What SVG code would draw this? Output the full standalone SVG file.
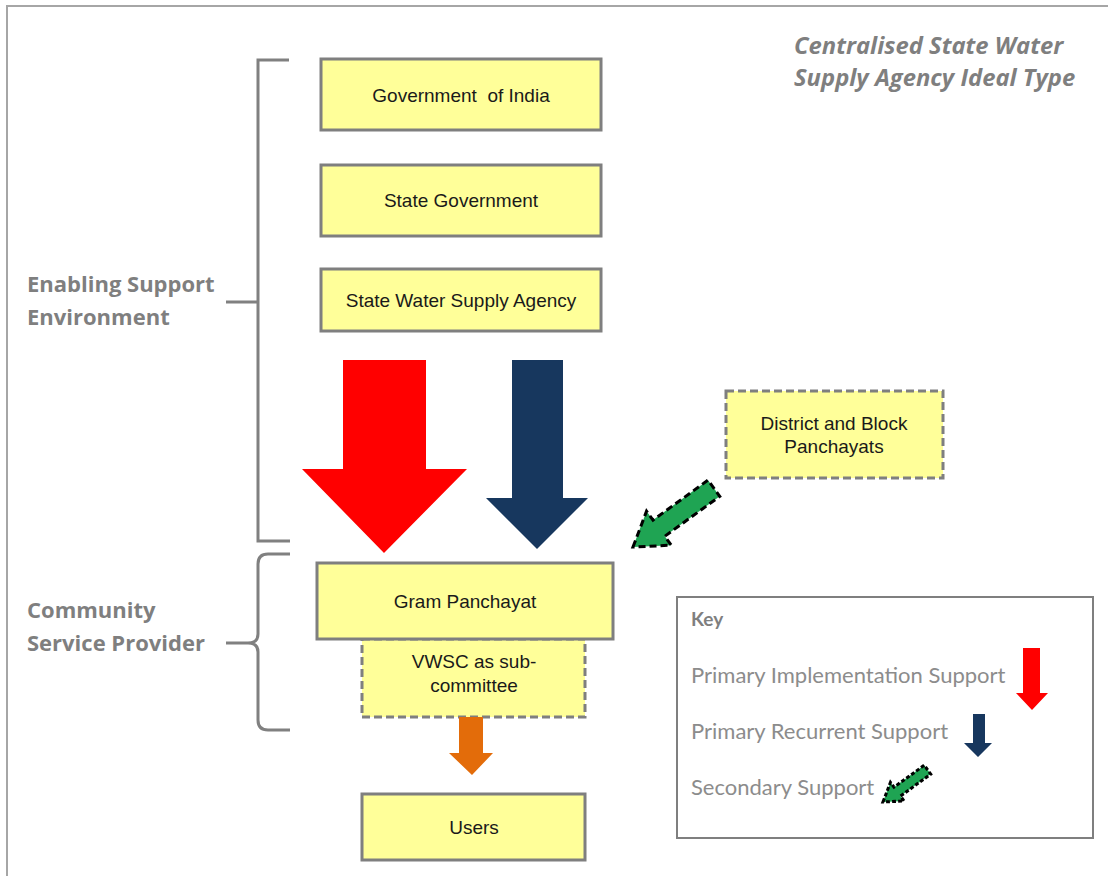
<svg xmlns="http://www.w3.org/2000/svg" width="1108" height="876" viewBox="0 0 1108 876">
  <defs>
    <style>
      .box { fill: #FFFF99; stroke: #7F7F7F; stroke-width: 3; }
      .dashed { stroke-dasharray: 8 4; }
      .lbl { font-family: "Liberation Sans", Arial, sans-serif; font-size: 19px; fill: #1a1a1a; text-anchor: middle; white-space: pre; }
      .side { font-family: "Open Sans", "Liberation Sans", sans-serif; font-weight: bold; font-size: 22px; fill: #7F7F7F; }
      .key { font-family: Lato, "Open Sans", sans-serif; font-size: 22px; fill: #8C8C8C; }
      .brace { fill: none; stroke: #808080; stroke-width: 3; }
      .green { fill: #1FA453; stroke: #000; stroke-width: 3; stroke-dasharray: 7 4; stroke-linejoin: miter; }
    </style>
    <!-- diagonal arrow, tip at origin, tail along +x -->
    <polygon id="diagArrow" points="0,0 32,-21 32,-10 100,-10 100,10 32,10 32,21"/>
  </defs>

  <rect width="1108" height="876" fill="#FFFFFF"/>
  <!-- page frame -->
  <path d="M7,876 L7,6 L1108,6" fill="none" stroke="#A6A6A6" stroke-width="2"/>

  <!-- title -->
  <g id="title" font-family="'Open Sans', 'Liberation Sans', sans-serif" font-weight="bold" font-style="italic" font-size="23.8" fill="#7F7F7F">
    <text x="794" y="54">Centralised State Water</text>
    <text x="794" y="86">Supply Agency Ideal Type</text>
  </g>

  <!-- side labels and braces -->
  <g id="enabling">
    <text class="side" x="27" y="292">Enabling Support</text>
    <text class="side" x="27" y="325">Environment</text>
    <path class="brace" d="M289,60 L258,60 L258,541 L290,541 M226,302 L258,302"/>
  </g>
  <g id="community">
    <text class="side" x="27" y="618">Community</text>
    <text class="side" x="27" y="651">Service Provider</text>
    <path class="brace" d="M290,554 L268,554 Q258,554 258,564 L258,634 Q258,643 248,643 L226,643 M248,643 Q258,643 258,652 L258,720 Q258,730 268,730 L290,730"/>
  </g>

  <!-- nodes -->
  <g id="goi">
    <rect class="box" x="321" y="59" width="280" height="71"/>
    <text class="lbl" x="461" y="102" xml:space="preserve">Government  of India</text>
  </g>
  <g id="state-gov">
    <rect class="box" x="321" y="165" width="280" height="71"/>
    <text class="lbl" x="461" y="207">State Government</text>
  </g>
  <g id="swsa">
    <rect class="box" x="321" y="269" width="280" height="62"/>
    <text class="lbl" x="461" y="307">State Water Supply Agency</text>
  </g>
  <g id="district">
    <rect class="box dashed" x="726" y="391" width="217" height="87"/>
    <text class="lbl" x="834" y="430">District and Block</text>
    <text class="lbl" x="834" y="453">Panchayats</text>
  </g>
  <g id="vwsc">
    <rect class="box dashed" x="362" y="639" width="223" height="78"/>
    <text class="lbl" x="474" y="668">VWSC as sub-</text>
    <text class="lbl" x="474" y="692">committee</text>
  </g>
  <g id="gram">
    <rect class="box" x="317" y="563" width="296" height="76"/>
    <text class="lbl" x="465" y="608">Gram Panchayat</text>
  </g>
  <g id="users">
    <rect class="box" x="362" y="794" width="223" height="66"/>
    <text class="lbl" x="474" y="834">Users</text>
  </g>

  <!-- connectors -->
  <g id="connectors">
    <polygon fill="#FF0000" points="343,360 426,360 426,469 467,469 384,553 302,469 343,469"/>
    <polygon fill="#17375E" points="512,360 563,360 563,498 588,498 537,549 486,498 512,498"/>
    <use href="#diagArrow" class="green" transform="translate(633,547) rotate(-36)"/>
    <polygon fill="#E36C0A" points="459,717 483,717 483,753 493,753 472,775 449,753 459,753"/>
  </g>

  <!-- key -->
  <g id="key">
    <rect x="677" y="597" width="416" height="241" fill="#FFFFFF" stroke="#7F7F7F" stroke-width="2"/>
    <text x="691" y="626" font-family="Lato, 'Open Sans', sans-serif" font-weight="bold" font-size="19" fill="#7F7F7F">Key</text>
    <text class="key" x="691" y="683">Primary Implementation Support</text>
    <text class="key" x="691" y="739">Primary Recurrent Support</text>
    <text class="key" x="691" y="795">Secondary Support</text>
    <polygon fill="#FF0000" points="1023,648 1040,648 1040,693 1048,693 1032,710 1016,693 1023,693"/>
    <polygon fill="#17375E" points="973,714 985,714 985,743 992,743 978,757 964,743 973,743"/>
    <use href="#diagArrow" class="green" transform="translate(883,802) rotate(-36) scale(0.55)" style="stroke-width:5.5"/>
  </g>
</svg>
